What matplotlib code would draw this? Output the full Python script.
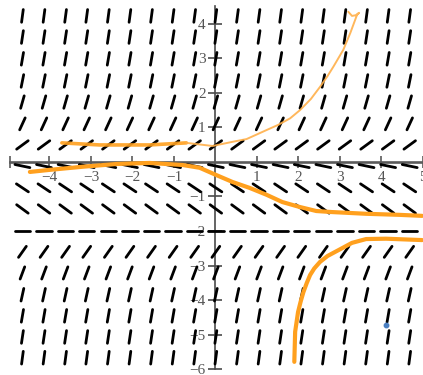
import numpy as np
import matplotlib
matplotlib.use("Agg")
import matplotlib.pyplot as plt
from matplotlib.collections import LineCollection

# Slope field: column x-positions, row y-positions and the slope on each row
col_x = [-4.65, -4.13, -3.61, -3.10, -2.58, -2.06, -1.54, -1.02, -0.50, 0.01,
         0.53, 1.05, 1.57, 2.08, 2.60, 3.12, 3.64, 4.16, 4.68]
row_y = [4.22, 3.61, 2.98, 2.34, 1.73, 1.10, 0.49, -0.12, -0.75, -1.36, -2.00,
         -2.60, -3.21, -3.84, -4.45, -5.06, -5.66]
row_slope = [9.0, 8.0, 7.0, 6.0, 4.2, 2.6, 0.88, -0.25, -0.8, -0.88, 0.0,
             1.7, 3.2, 5.5, 7.0, 8.0, 9.0]

# Sketched solution curves
upper_x = [-3.70, -2.79, -1.59, -0.70, -0.07, 0.41, 0.75, 1.23, 1.51, 1.80, 2.04,
           2.30, 2.52, 2.70, 2.84, 3.08, 3.25, 3.41, 3.46, 3.38, 3.29, 3.20]
upper_y = [0.55, 0.49, 0.49, 0.55, 0.46, 0.58, 0.66, 0.92, 1.07, 1.26, 1.50,
           1.82, 2.17, 2.48, 2.75, 3.24, 3.73, 4.25, 4.31, 4.24, 4.22, 4.34]
middle_x = [-4.47, -3.99, -3.20, -2.38, -1.59, -0.79, -0.38, 0.02, 0.41, 0.82,
            1.23, 1.61, 2.02, 2.43, 2.81, 3.63, 4.42, 4.98]
middle_y = [-0.29, -0.23, -0.14, -0.06, -0.03, -0.09, -0.17, -0.38, -0.58, -0.75,
            -0.95, -1.16, -1.30, -1.42, -1.45, -1.50, -1.53, -1.56]
lower_x = [4.98, 4.11, 3.63, 3.29, 2.98, 2.70, 2.52, 2.38, 2.28, 2.20, 2.12,
           2.05, 1.99, 1.92, 1.90]
lower_y = [-2.26, -2.22, -2.23, -2.34, -2.54, -2.72, -2.89, -3.08, -3.27, -3.50,
           -3.76, -4.05, -4.34, -4.91, -5.78]

point_x, point_y = 4.11, -4.71

x_ticks = [-4, -3, -2, -1, 1, 2, 3, 4, 5]
y_ticks = [-6, -5, -4, -3, -2, -1, 1, 2, 3, 4]

fig = plt.figure(figsize=(4.23, 3.75), dpi=100)
ax = fig.add_axes([0, 0, 1, 1])
ax.set_xlim(-5.19, 4.98)
ax.set_ylim(-6.16, 4.68)

# slope segments of constant length in data units
seg_len = 0.37
segs = []
for y, m in zip(row_y, row_slope):
    dx = seg_len / 2 / np.sqrt(1 + m * m)
    dy = m * dx
    for x in col_x:
        segs.append([(x - dx, y - dy), (x + dx, y + dy)])
ax.add_collection(LineCollection(segs, colors="black", linewidths=2.0,
                                 capstyle="round", zorder=3))

orange = "#ffa01e"
ax.plot(upper_x[:4], upper_y[:4], color=orange, lw=2.6, alpha=0.9,
        solid_capstyle="round", solid_joinstyle="round", zorder=4)
ax.plot(upper_x[3:], upper_y[3:], color="#ffb04a", lw=1.4, alpha=0.9,
        solid_capstyle="round", solid_joinstyle="round", zorder=4)
ax.plot(middle_x, middle_y, color=orange, lw=3.0, solid_capstyle="round",
        solid_joinstyle="round", zorder=4)
ax.plot(lower_x, lower_y, color=orange, lw=3.0, solid_capstyle="round",
        solid_joinstyle="round", zorder=4)
ax.plot([point_x], [point_y], "o", ms=3.2, color="#4a7fc1", zorder=5)

# axes through the origin
for s in ("top", "right"):
    ax.spines[s].set_visible(False)
ax.spines["bottom"].set_position(("data", 0))
ax.spines["left"].set_position(("data", 0))
ax.spines["bottom"].set_bounds(-4.95, 4.98)
ax.spines["left"].set_bounds(-6, 4.5)
ax.spines["bottom"].set_color("#5a5a5a")
ax.spines["bottom"].set_linewidth(1.9)
ax.spines["left"].set_color("#4a4a4a")
ax.spines["left"].set_linewidth(1.2)
ax.spines["bottom"].set_zorder(2.5)
ax.spines["left"].set_zorder(2.5)

label_font = {"family": "Liberation Serif", "size": 11}
ax.set_xticks(x_ticks)
ax.set_xticklabels([f"{t}".replace("-", "\u2212") for t in x_ticks], fontdict=label_font)
ax.set_yticks(y_ticks)
ax.set_yticklabels([f"{t}".replace("-", "\u2212") for t in y_ticks], fontdict=label_font)
ax.set_xticks([-4.95], minor=True)
ax.tick_params(axis="x", which="major", direction="inout", length=9, width=1.2,
               color="#5a5a5a", labelcolor="#555555", pad=2)
ax.tick_params(axis="x", which="minor", direction="inout", length=9, width=1.2,
               color="#5a5a5a")
ax.tick_params(axis="y", direction="inout", length=10, width=1.2,
               color="#4a4a4a", labelcolor="#555555", pad=2)

fig.savefig("out.png", dpi=100)
